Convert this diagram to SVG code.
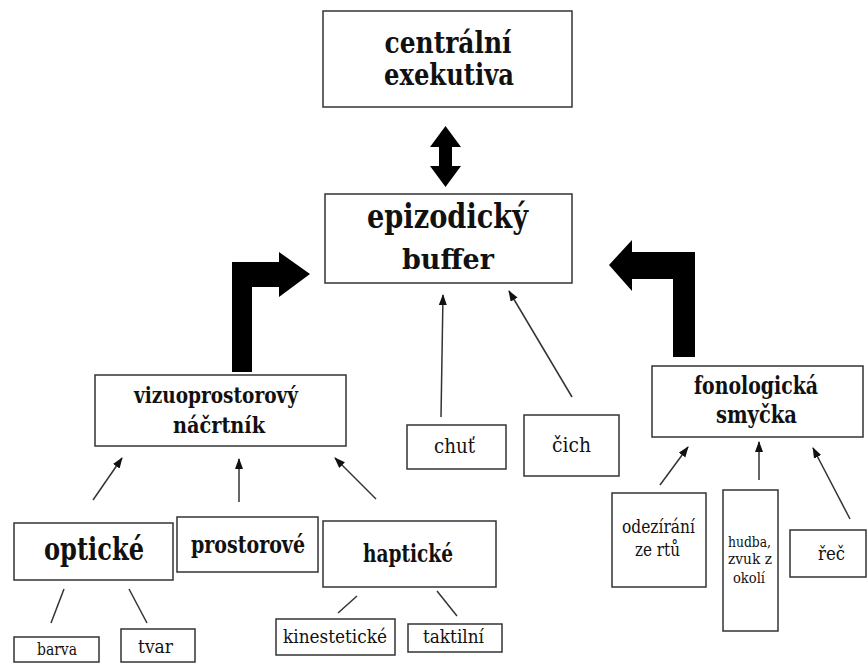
<svg xmlns="http://www.w3.org/2000/svg" width="868" height="664" viewBox="0 0 868 664" font-family="DejaVu Serif, Liberation Serif, serif">
<style>
rect.box{fill:#fff;stroke:#333;stroke-width:1.5}
text{fill:#111;text-anchor:middle}
text.b{font-weight:bold}
.thin{stroke:#333;stroke-width:1.5;fill:none}
.big{fill:#000}
</style>
<defs>
<marker id="ah" markerUnits="userSpaceOnUse" markerWidth="11" markerHeight="9" refX="10" refY="4" orient="auto">
<path d="M0,0 L11,4 L0,8 z" fill="#111"/>
</marker>
</defs>
<rect width="868" height="664" fill="#fff"/>

<g id="connectors">
<polygon class="big" points="445.5,126 461,147 452,147 452,166 461,166 445.5,187 430,166 439,166 439,147 430,147"/>
<polygon class="big" points="232,372 232,262 279,262 279,252 310,274 279,297 279,287 252,287 252,372"/>
<polygon class="big" points="695,357 695,252 632,252 632,240 609,265 632,291 632,279 673,279 673,357"/>
<line class="thin" x1="441" y1="417" x2="443" y2="295" marker-end="url(#ah)"/>
<line class="thin" x1="572" y1="397" x2="509" y2="291" marker-end="url(#ah)"/>
<line class="thin" x1="93" y1="500" x2="122" y2="458" marker-end="url(#ah)"/>
<line class="thin" x1="239" y1="502" x2="239" y2="459" marker-end="url(#ah)"/>
<line class="thin" x1="376" y1="499" x2="335" y2="458" marker-end="url(#ah)"/>
<line class="thin" x1="660" y1="485" x2="688" y2="447" marker-end="url(#ah)"/>
<line class="thin" x1="759" y1="480" x2="759" y2="442" marker-end="url(#ah)"/>
<line class="thin" x1="850" y1="519" x2="813" y2="448" marker-end="url(#ah)"/>
<line class="thin" x1="64" y1="589" x2="51" y2="623"/>
<line class="thin" x1="129" y1="589" x2="147" y2="623"/>
<line class="thin" x1="357" y1="596" x2="338" y2="613"/>
<line class="thin" x1="437" y1="591" x2="457" y2="616"/>
</g>

<g id="centralni-exekutiva">
<rect class="box" x="323" y="11" width="249" height="96"/>
<text class="b" x="448" y="53" font-size="29" textLength="127" lengthAdjust="spacingAndGlyphs">centrální</text>
<text class="b" x="449" y="85" font-size="29" textLength="130" lengthAdjust="spacingAndGlyphs">exekutiva</text>
</g>

<g id="epizodicky-buffer">
<rect class="box" x="325" y="194" width="247" height="89"/>
<text class="b" x="447.5" y="228" font-size="33" textLength="161" lengthAdjust="spacingAndGlyphs">epizodický</text>
<text class="b" x="448" y="269" font-size="27" textLength="92" lengthAdjust="spacingAndGlyphs">buffer</text>
</g>

<g id="vizuoprostorovy-nacrtnik">
<rect class="box" x="95" y="375" width="251" height="71"/>
<text class="b" x="216" y="403" font-size="23" textLength="164" lengthAdjust="spacingAndGlyphs">vizuoprostorový</text>
<text class="b" x="219" y="433" font-size="23" textLength="92" lengthAdjust="spacingAndGlyphs">náčrtník</text>
</g>

<g id="fonologicka-smycka">
<rect class="box" x="652" y="366" width="211" height="71"/>
<text class="b" x="756" y="394" font-size="24" textLength="124" lengthAdjust="spacingAndGlyphs">fonologická</text>
<text class="b" x="756.5" y="423" font-size="24" textLength="81" lengthAdjust="spacingAndGlyphs">smyčka</text>
</g>

<g id="chut">
<rect class="box" x="407" y="425" width="99" height="44"/>
<text x="454.5" y="453" font-size="21" textLength="41" lengthAdjust="spacingAndGlyphs">chuť</text>
</g>

<g id="cich">
<rect class="box" x="524" y="415" width="95" height="61"/>
<text x="571.5" y="452" font-size="21" textLength="39" lengthAdjust="spacingAndGlyphs">čich</text>
</g>

<g id="opticke">
<rect class="box" x="14" y="523" width="159" height="57"/>
<text class="b" x="94" y="560" font-size="31" textLength="100" lengthAdjust="spacingAndGlyphs">optické</text>
</g>

<g id="prostorove">
<rect class="box" x="177" y="517" width="141" height="55"/>
<text class="b" x="248" y="553" font-size="24" textLength="114" lengthAdjust="spacingAndGlyphs">prostorové</text>
</g>

<g id="hapticke">
<rect class="box" x="323" y="521" width="173" height="66"/>
<text class="b" x="408" y="562" font-size="24" textLength="90" lengthAdjust="spacingAndGlyphs">haptické</text>
</g>

<g id="barva">
<rect class="box" x="14" y="637" width="85" height="25"/>
<text x="57" y="655" font-size="17" textLength="40" lengthAdjust="spacingAndGlyphs">barva</text>
</g>

<g id="tvar">
<rect class="box" x="121" y="629" width="74" height="33"/>
<text x="155.5" y="653" font-size="18" textLength="35" lengthAdjust="spacingAndGlyphs">tvar</text>
</g>

<g id="kinesteticke">
<rect class="box" x="276" y="619" width="119" height="36"/>
<text x="335" y="643" font-size="19" textLength="104" lengthAdjust="spacingAndGlyphs">kinestetické</text>
</g>

<g id="taktilni">
<rect class="box" x="408" y="624" width="94" height="28"/>
<text x="453.5" y="643" font-size="19" textLength="61" lengthAdjust="spacingAndGlyphs">taktilní</text>
</g>

<g id="odezirani">
<rect class="box" x="612" y="493" width="94" height="94"/>
<text x="658.5" y="533" font-size="18" textLength="73" lengthAdjust="spacingAndGlyphs">odezírání</text>
<text x="657.5" y="556" font-size="18" textLength="45" lengthAdjust="spacingAndGlyphs">ze rtů</text>
</g>

<g id="hudba">
<rect class="box" x="723" y="490" width="55" height="141"/>
<text x="749.5" y="547" font-size="15" textLength="43" lengthAdjust="spacingAndGlyphs">hudba,</text>
<text x="750" y="564" font-size="15" textLength="44" lengthAdjust="spacingAndGlyphs">zvuk z</text>
<text x="749" y="583" font-size="15" textLength="32" lengthAdjust="spacingAndGlyphs">okolí</text>
</g>

<g id="rec">
<rect class="box" x="790" y="530" width="76" height="47"/>
<text x="831.5" y="560" font-size="19" textLength="27" lengthAdjust="spacingAndGlyphs">řeč</text>
</g>
</svg>
